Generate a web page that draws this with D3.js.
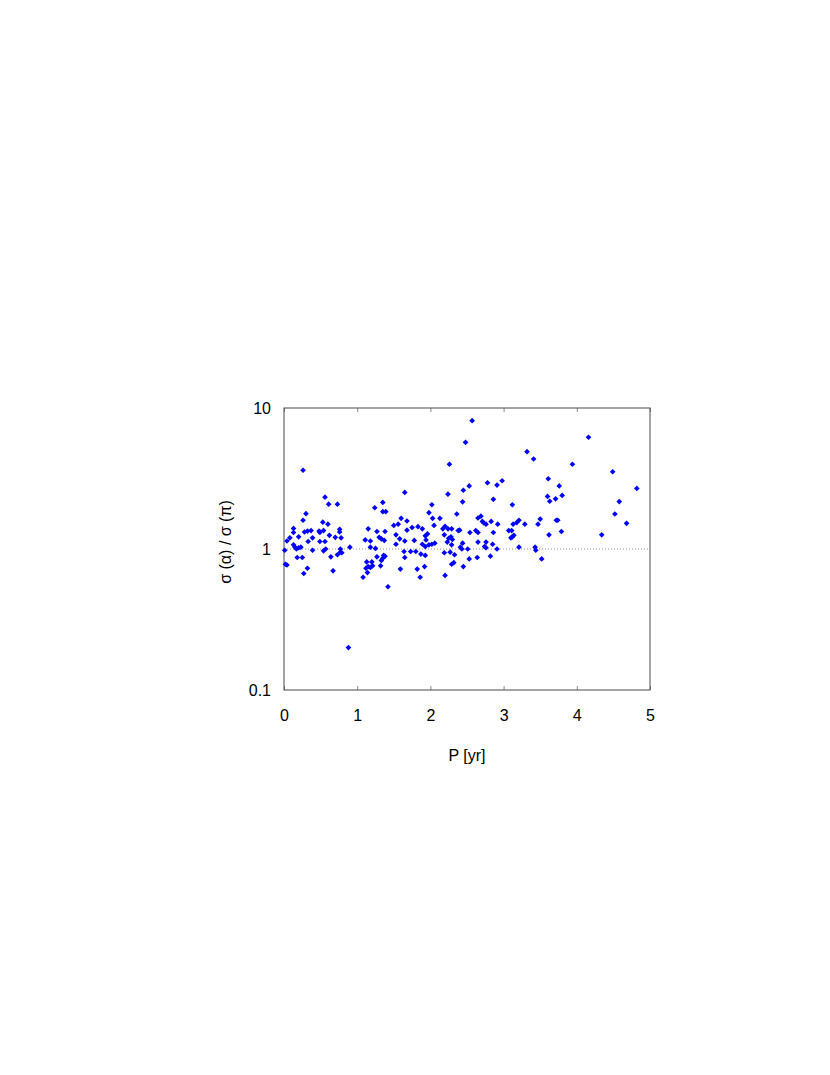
<!DOCTYPE html>
<html>
<head>
<meta charset="utf-8">
<script src="https://cdn.jsdelivr.net/npm/d3@7"></script>
<style>
  body { margin: 0; background: #fff; }
  text { font-family: "Liberation Sans", Arial, sans-serif; fill: #000; }
  .frame { fill: none; stroke: #4a4a4a; stroke-width: 1; }
  .tick line { stroke: #8a8a8a; }
</style>
</head>
<body>
<svg id="chart" width="830" height="1075"></svg>
<script>
// x tick values (P in years) and y tick values (ratio, log scale)
var xTicks = [0, 1, 2, 3, 4, 5];
var yTicks = [0.1, 1, 10];

// [P (yr), sigma(alpha)/sigma(pi)], by period range
var shortP = [
  [0.26,3.62],[0.56,2.33],[0.61,2.08],[0.73,2.08],[0.30,1.78],[0.26,1.60],[0.53,1.55],[0.60,1.50],
  [0.13,1.40],[0.13,1.31],[0.76,1.38],[0.76,1.32],[0.28,1.32],[0.32,1.34],[0.37,1.35],[0.48,1.34],
  [0.54,1.35],[0.49,1.31],[0.62,1.25],[0.70,1.21],[0.08,1.20],[0.04,1.14],[0.20,1.22],[0.39,1.20],
  [0.78,1.20],[0.33,1.13],[0.49,1.13],[0.56,1.13],[0.13,1.07],[0.15,1.03],[0.17,1.00],[0.20,1.02],
  [0.23,1.03],[0.01,0.98],[0.39,0.98],[0.54,0.97],[0.57,1.00],[0.77,1.00],[0.77,0.95],[0.79,0.94],
  [0.90,1.03],[0.18,0.87],[0.25,0.87],[0.64,0.88],[0.73,0.91],[0.02,0.78],[0.04,0.77],[0.32,0.73],
  [0.27,0.67],[0.67,0.70],[0.88,0.20]
];
var midP = [
  [1.24,1.96],[1.15,1.39],[1.27,1.33],[1.11,1.16],[1.18,1.14],[1.18,1.03],[1.25,1.01],[1.30,1.21],
  [1.27,0.88],[1.13,0.81],[1.20,0.81],[1.12,0.73],[1.15,0.75],[1.18,0.74],[1.21,0.76],[1.08,0.63],
  [1.14,0.68],
  [2.48,5.71],[2.26,3.99],[1.65,2.52],[2.24,2.45],[2.53,2.80],[2.45,2.61],[2.44,2.16],[1.35,2.14],
  [1.35,1.84],[1.39,1.84],[2.02,2.06],[1.98,1.81],[2.36,1.77],[1.60,1.65],[1.68,1.58],[2.03,1.65],
  [2.13,1.65],[1.50,1.47],[1.56,1.50],[2.05,1.47],[1.75,1.42],[1.83,1.44],[1.89,1.39],[1.68,1.36],
  [2.17,1.39],[2.20,1.45],[2.24,1.39],[2.29,1.39],[2.38,1.35],[2.40,1.36],[1.38,1.33],[2.54,1.31],
  [1.53,1.26],[1.96,1.28],[1.93,1.24],[2.19,1.26],[1.33,1.18],[1.37,1.15],[1.58,1.18],[1.65,1.14],
  [1.78,1.15],[1.94,1.16],[2.25,1.19],[2.28,1.22],[2.30,1.17],[1.53,1.08],[1.89,1.08],[1.93,1.04],
  [1.98,1.07],[2.02,1.08],[2.06,1.10],[2.23,1.12],[2.29,1.07],[2.44,1.10],[2.41,1.03],[2.43,1.00],
  [2.51,1.00],[1.64,0.96],[1.73,0.96],[1.80,0.96],[1.87,0.92],[1.93,0.90],[2.19,0.94],[2.27,0.95],
  [2.33,0.91],[1.36,0.90],[1.38,0.89],[1.35,0.86],[1.33,0.83],[1.65,0.87],[2.53,0.85],[1.32,0.76],
  [2.32,0.80],[2.29,0.78],[1.59,0.72],[1.82,0.72],[1.92,0.75],[2.45,0.75],[1.86,0.63],[2.20,0.65],
  [1.42,0.54]
];
var longP = [
  [2.57,8.13],[3.32,4.90],[3.41,4.35],[3.61,3.15],[3.76,2.80],[2.98,3.05],[2.91,2.84],[2.78,2.95],
  [2.86,2.25],[3.60,2.36],[3.71,2.27],[3.80,2.40],[3.63,2.18],[3.12,2.06],[2.65,1.66],[2.69,1.71],
  [2.71,1.57],[2.73,1.53],[2.76,1.50],[2.83,1.57],[2.92,1.50],[3.13,1.50],[3.18,1.54],[3.21,1.60],
  [3.29,1.50],[3.47,1.50],[3.50,1.63],[3.72,1.60],[3.74,1.60],[2.62,1.35],[2.65,1.31],[2.86,1.31],
  [3.07,1.35],[3.11,1.35],[3.10,1.20],[3.12,1.22],[3.14,1.25],[3.62,1.26],[3.79,1.33],[2.65,1.12],
  [2.76,1.12],[2.74,1.04],[2.76,1.02],[2.85,1.08],[2.91,1.00],[3.21,1.03],[3.43,1.03],[3.44,0.98],
  [2.64,0.87],[2.82,0.89],[3.52,0.85],
  [4.16,6.20],[3.94,3.99],[4.49,3.53],[4.82,2.69],[4.58,2.17],[4.52,1.77],[4.68,1.52],[4.34,1.26]
];
var points = shortP.concat(midP, longP);

var margin = {top: 408, left: 284};
var width = 366, height = 282;

var svg = d3.select("#chart");
var g = svg.append("g")
    .attr("transform", "translate(" + margin.left + "," + margin.top + ")");

var x = d3.scaleLinear().domain([0, 5]).range([0, width]);
var y = d3.scaleLog().domain([0.1, 10]).range([height, 0]);

// bottom axis: inward ticks, labels below
var xb = g.append("g")
    .attr("transform", "translate(0," + height + ")")
    .call(d3.axisBottom(x).tickValues(xTicks).tickSizeInner(-4).tickSizeOuter(0)
          .tickPadding(20).tickFormat(d3.format("d")));
xb.select(".domain").remove();
xb.selectAll("text").style("font-size", "16px");

// top axis: ticks only
var xt = g.append("g")
    .call(d3.axisTop(x).tickValues(xTicks).tickSizeInner(-4).tickSizeOuter(0).tickFormat(""));
xt.select(".domain").remove();

// left axis: labels only
var yl = g.append("g")
    .call(d3.axisLeft(y).tickValues(yTicks).tickSize(0).tickPadding(13)
          .tickFormat(function(d) { return d < 1 ? d.toString() : d3.format("d")(d); }));
yl.select(".domain").remove();
yl.selectAll("text").style("font-size", "16px");

// reference line at ratio 1
g.append("line")
    .attr("x1", 0).attr("x2", width)
    .attr("y1", y(1)).attr("y2", y(1))
    .attr("stroke", "#7a7a7a")
    .attr("stroke-width", 0.8)
    .attr("stroke-dasharray", "1,2");

g.append("rect")
    .attr("class", "frame")
    .attr("x", 0).attr("y", 0)
    .attr("width", width).attr("height", height);

// diamond markers
var diamond = d3.symbol().type(d3.symbolSquare).size(16);
g.selectAll(".pt")
    .data(points)
    .enter().append("path")
    .attr("class", "pt")
    .attr("d", diamond)
    .attr("transform", function(d) {
        return "translate(" + x(d[0]) + "," + y(d[1]) + ") rotate(45)";
    })
    .attr("fill", "#0000ff");

// axis titles
g.append("text")
    .attr("text-anchor", "middle")
    .attr("x", width / 2)
    .attr("y", height + 71)
    .style("font-size", "16px")
    .text("P [yr]");

g.append("text")
    .attr("text-anchor", "middle")
    .attr("transform", "translate(-53," + (y(1) - 7) + ") rotate(-90)")
    .style("font-size", "16px")
    .text("σ (α) / σ (π)");
</script>
</body>
</html>
